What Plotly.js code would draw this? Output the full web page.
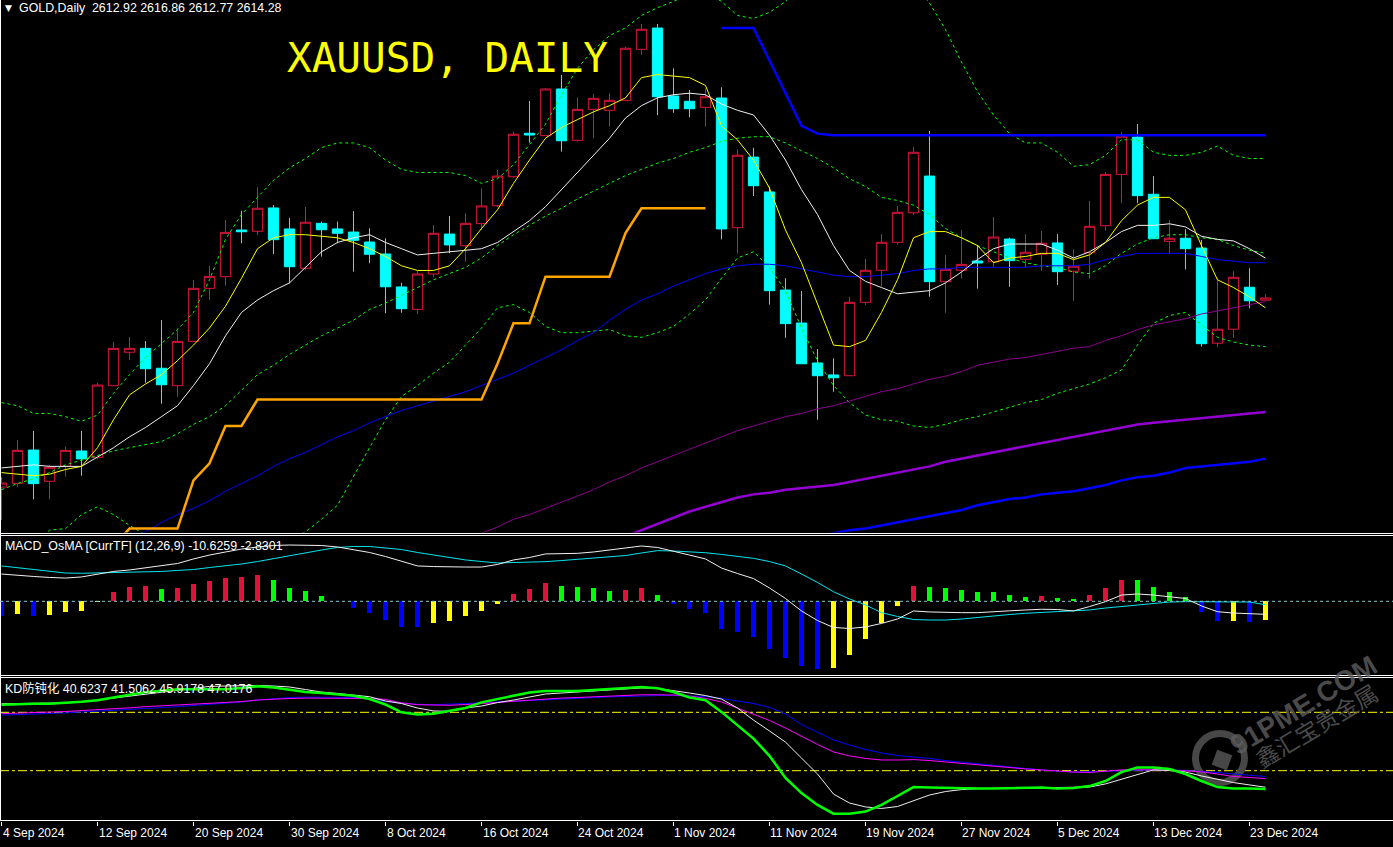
<!DOCTYPE html>
<html><head><meta charset="utf-8">
<script src="https://cdn.plot.ly/plotly-3.0.1.min.js"></script>
<style>html,body{margin:0;padding:0;background:#000;overflow:hidden}#chart{width:1393px;height:847px}</style>
</head><body><div id="chart"></div>
<script>
// ---------------- DATA ----------------
const tickIdx = [0,6,12,18,24,30,36,42,48,54,60,66,72,78];
const tickText = ["4 Sep 2024","12 Sep 2024","20 Sep 2024","30 Sep 2024","8 Oct 2024","16 Oct 2024","24 Oct 2024","1 Nov 2024","11 Nov 2024","19 Nov 2024","27 Nov 2024","5 Dec 2024","13 Dec 2024","23 Dec 2024"];

const open = [2492.7,2495.1,2516.5,2496.4,2506.1,2515.9,2511.8,2557.9,2579.4,2581.9,
2569.1,2557.9,2586.4,2620.5,2628.0,2658.0,2657.2,2672.2,2658.7,2633.4,
2662.3,2658.7,2656.7,2650.3,2642.6,2621.4,2607.0,2629.7,2655.4,2647.9,
2662.1,2673.6,2692.3,2720.2,2718.7,2748.7,2715.7,2735.6,2735.0,2741.4,
2774.2,2787.9,2744.2,2740.8,2736.9,2742.9,2659.5,2704.9,2682.5,2619.4,
2598.2,2572.5,2564.8,2564.3,2611.5,2632.1,2650.1,2669.1,2692.7,2624.8,
2632.1,2638.1,2637.6,2652.2,2639.2,2642.4,2649.7,2631.5,2643.4,2660.8,
2693.8,2717.8,2681.0,2650.7,2652.7,2646.4,2585.2,2594.2,2621.2,2612.92];
const high = [2499.2,2523.0,2528.8,2506.9,2518.7,2528.8,2559.8,2586.0,2589.2,2586.6,
2600.1,2594.8,2625.9,2635.1,2664.5,2670.4,2685.5,2674.1,2665.7,2672.8,
2663.4,2663.4,2670.2,2659.1,2652.7,2624.1,2631.8,2661.2,2667.0,2668.8,
2684.8,2696.6,2721.2,2741.0,2749.3,2757.7,2743.4,2745.5,2745.9,2775.7,
2790.5,2790.5,2762.0,2748.0,2749.1,2749.8,2709.9,2710.9,2685.9,2627.0,
2618.8,2581.5,2575.5,2614.9,2639.4,2655.4,2673.5,2711.4,2721.7,2641.9,
2658.0,2648.4,2666.4,2653.1,2655.4,2657.4,2655.4,2645.6,2676.7,2695.3,
2720.8,2726.2,2692.7,2664.5,2658.5,2651.6,2627.0,2631.6,2633.4,2616.86];
const low = [2471.5,2492.9,2484.8,2484.8,2499.4,2500.0,2510.6,2557.7,2574.4,2559.8,
2546.3,2550.8,2586.0,2613.0,2622.2,2649.5,2654.6,2642.6,2623.7,2632.1,
2640.9,2649.5,2631.2,2636.6,2604.5,2604.8,2604.0,2627.6,2643.0,2637.6,
2658.0,2672.8,2691.6,2714.2,2718.5,2708.4,2714.8,2717.0,2724.4,2741.0,
2770.6,2731.9,2733.4,2730.5,2724.4,2652.0,2643.0,2679.9,2610.0,2588.7,
2571.8,2536.0,2554.0,2564.1,2609.8,2621.5,2648.6,2667.7,2615.1,2604.8,
2626.7,2620.3,2633.8,2621.5,2634.0,2631.8,2622.6,2612.5,2626.7,2657.6,
2675.2,2675.2,2652.2,2642.6,2632.7,2583.0,2582.6,2588.6,2607.7,2612.77];
const close = [2495.3,2516.3,2494.9,2505.4,2516.3,2510.8,2558.3,2581.9,2581.9,2568.8,
2558.5,2586.4,2620.5,2628.2,2656.5,2656.9,2672.0,2651.8,2634.4,2663.0,
2658.2,2655.9,2651.4,2642.4,2621.5,2607.4,2629.7,2655.9,2648.4,2662.3,
2673.5,2692.7,2719.6,2719.1,2748.7,2715.4,2735.6,2742.7,2741.4,2774.9,
2787.1,2743.7,2736.0,2736.0,2743.7,2658.7,2706.1,2686.5,2619.0,2597.8,
2572.0,2564.3,2563.0,2611.5,2632.1,2650.1,2669.4,2708.0,2624.8,2632.7,
2635.9,2636.8,2653.5,2638.3,2643.7,2649.5,2631.2,2634.7,2660.4,2693.8,
2718.3,2680.1,2652.4,2652.7,2646.0,2584.9,2594.2,2627.6,2612.5,2614.28];

const maYellow = [2502,2501,2500,2501,2504,2506,2518,2536,2552,2559,
2565,2574,2584,2595,2609,2627,2646,2653,2655,2655,
2654,2653,2650,2646,2641,2635,2632,2632,2635,2646,
2659,2671,2688,2703,2717,2724,2729,2734,2738,2743,
2756,2758,2757,2756,2751,2725,2716,2703,2685,2658,
2637,2610,2584,2583,2587,2605,2626,2653,2657,2657,
2653,2648,2637,2640,2641,2643,2643,2639,2642,2650,
2664,2674,2679,2679,2671,2648,2626,2621,2615,2608];
const maWhite = [2505,2506,2507,2506,2506,2506,2512,2518,2525,2531,
2538,2545,2558,2572,2590,2605,2613,2619,2624,2634,
2644,2650,2653,2655,2650,2646,2642,2643,2644,2645,
2646,2650,2657,2664,2673,2684,2695,2706,2717,2730,
2738,2743,2745,2746,2745,2739,2735,2732,2719,2703,
2684,2668,2648,2632,2625,2621,2617,2618,2619,2624,
2631,2639,2646,2649,2649,2649,2645,2640,2644,2650,
2657,2661,2661,2662,2660,2654,2652,2651,2646,2640];
const bbMid = [2491,2495,2498,2502,2507,2510,2513,2516,2518,2520,
2522,2527,2533,2538,2545,2555,2565,2571,2578,2584,
2590,2595,2600,2607,2611,2616,2621,2626,2630,2634,
2640,2648,2655,2661,2667,2672,2678,2683,2688,2693,
2697,2701,2704,2708,2711,2715,2717,2718,2718,2714,
2709,2704,2698,2691,2686,2679,2677,2674,2668,2659,
2653,2648,2644,2640,2637,2635,2634,2631,2630,2635,
2643,2649,2653,2655,2655,2653,2652,2648,2645,2643];
const bbUpper = [2547,2545,2540,2540,2538,2535,2539,2553,2565,2576,
2585,2594,2605,2626,2652,2668,2679,2690,2698,2704,
2711,2714,2714,2711,2703,2697,2695,2695,2695,2693,
2688,2691,2700,2713,2726,2745,2762,2774,2783,2788,
2796,2801,2805,2810,2811,2805,2796,2794,2798,2805,
2816,2832,2841,2842,2834,2823,2821,2816,2804,2787,
2766,2747,2732,2720,2714,2714,2708,2699,2700,2706,
2716,2716,2708,2706,2706,2708,2712,2706,2704,2704];
const bbLower = [2434,2445,2456,2465,2466,2475,2480,2475,2468,2462,
2459,2460,2460,2451,2439,2443,2451,2452,2459,2464,
2472,2481,2500,2518,2536,2551,2558,2566,2573,2584,
2595,2608,2610,2605,2596,2592,2592,2593,2594,2590,
2589,2592,2596,2604,2613,2627,2640,2644,2634,2619,
2595,2574,2558,2547,2539,2536,2535,2532,2531,2533,
2536,2538,2541,2544,2547,2549,2553,2556,2559,2563,
2568,2584,2598,2603,2605,2597,2589,2586,2584,2583];

const ma50Start = 7;
const ma50 = [2453,2459,2464,2470,2475,2479,2484,2490,2495,2500,
2506,2511,2515,2520,2525,2529,2534,2538,2542,2545,
2548,2551,2554,2558,2562,2566,2571,2576,2581,2587,
2592,2600,2607,2613,2617,2622,2626,2630,2633,2635,
2636,2636,2635,2633,2631,2629,2628,2628,2629,2630,
2632,2633,2633,2634,2634,2634,2634,2634,2635,2635,
2635,2636,2639,2641,2643,2643,2643,2643,2641,2639,
2638,2637,2637];
const ma100Start = 29;
const ma100 = [2459,2463,2467,2472,2475,2479,2483,2487,2491,2496,
2500,2505,2509,2513,2517,2521,2525,2529,2532,2535,
2538,2540,2543,2545,2548,2551,2554,2556,2559,2562,
2564,2567,2571,2573,2575,2576,2578,2580,2582,2583,
2587,2590,2594,2597,2599,2601,2604,2606,2608,2610,2612];
const ma200Start = 39;
const ma200 = [2461,2465,2469,2473,2477,2480,2483,2486,2488,2489,
2491,2492,2493,2494,2496,2498,2500,2502,2504,2506,
2509,2511,2513,2515,2517,2519,2521,2523,2525,2527,
2529,2531,2533,2534,2535,2536,2537,2538,2539,2540,2541];
const maLongStart = 51;
const maLong = [2461,2463,2465,2466,2468,2470,2472,2474,2476,2478,
2481,2483,2485,2486,2488,2489,2490,2492,2494,2497,
2499,2500,2502,2505,2506,2507,2508,2509,2511];
const stopLowStart = 7;
const stopLow = [2455,2466,2466,2466,2466,2497,2508,2532,2532,2549,
2549,2549,2549,2549,2549,2549,2549,2549,2549,2549,
2549,2549,2549,2549,2572,2598,2598,2628,2628,2628,
2628,2628,2656,2672,2672,2672,2672,2672];
const stopHighStart = 45;
const stopHigh = [2788,2788,2788,2767,2746,2725,2720,2719,2719,2719,
2719,2719,2719,2719,2719,2719,2719,2719,2719,2719,
2719,2719,2719,2719,2719,2719,2719,2719,2719,2719,
2719,2719,2719,2719,2719];

const macdLine = [22.3,21.1,20.3,19.5,19.0,19.9,22.3,24.4,25.6,27.2,
28.9,30.9,34.6,37.8,40.3,42.7,44.4,45.6,46.0,46.0,
45.6,44.4,42.3,39.9,36.6,32.5,28.9,28.4,28.0,28.0,
28.0,30.1,33.8,35.8,38.7,39.1,39.2,40.3,41.9,43.3,
45.2,44.0,41.1,37.8,34.6,27.2,22.7,18.6,10.9,2.3,
-7.9,-15.7,-21.4,-22.2,-21.0,-18.1,-14.5,-7.9,-8.7,-9.3,
-9.3,-9.3,-8.3,-7.8,-7.1,-6.5,-6.7,-7.9,-4.3,-0.3,
5.1,6.0,5.1,3.9,2.3,-3.8,-8.5,-9.6,-10.2,-10.6259];
const signalLine = [28.9,27.6,26.0,24.4,23.1,22.9,23.1,23.4,23.5,23.7,
24.4,25.2,26.0,27.6,28.9,30.5,32.5,35.0,37.0,39.9,
41.9,44.0,44.8,44.8,43.6,42.3,39.9,37.8,36.2,33.8,
32.5,31.3,31.7,31.9,32.4,33.3,34.3,35.4,36.2,37.4,
39.5,41.4,41.1,40.7,39.7,38.3,36.6,35.1,32.5,28.9,
22.3,15.4,7.8,1.9,-3.0,-9.3,-12.4,-14.9,-15.3,-15.3,
-14.5,-13.1,-12.0,-10.8,-9.8,-9.2,-8.3,-7.9,-7.1,-5.5,
-4.3,-2.6,-1.8,-0.6,-0.3,-0.3,-0.3,-0.3,-0.6,-2.8301];
const osma = [-11.7,-10.1,-11.7,-10.9,-8.4,-7.6,-0.6,7.6,11.7,12.5,
10.1,10.9,14.5,16.6,19.0,19.9,21.5,17.4,10.9,8.4,
4.3,-0.3,-5.1,-9.6,-15.0,-21.0,-21.1,-17.4,-15.8,-11.7,
-7.9,-1.9,6.3,10.1,15.3,12.8,11.7,10.9,8.4,9.2,
10.9,5.1,-1.9,-6.3,-9.6,-22.6,-24.8,-29.2,-39.0,-46.0,
-52.9,-55.0,-54.2,-43.9,-30.8,-18.0,-3.8,12.5,11.7,10.9,
9.2,7.6,7.5,5.1,3.5,4.3,2.7,1.9,5.1,10.9,
17.4,17.2,11.7,7.6,3.5,-8.4,-16.1,-15.9,-16.9,-15.3];

const kdGreen = [83.9,84.3,84.4,84.4,84.8,85.4,86.2,87.7,89.0,90.3,
91.2,91.8,91.8,91.8,91.8,92.5,93.4,92.7,91.5,90.4,
89.9,89.1,88.5,86.8,84.0,80.0,78.9,79.3,80.7,82.2,
85.1,86.8,88.6,90.2,90.9,90.9,90.9,91.5,92.0,92.7,
93.0,92.3,90.4,87.6,86.2,80.2,73.5,66.5,57.6,46.3,
38.5,32.4,27.9,27.9,29.0,32.4,37.0,41.6,41.4,41.1,
40.9,40.8,40.9,41.1,41.4,41.4,40.9,41.1,42.1,44.7,
49.3,51.6,51.7,50.9,48.3,44.7,41.6,40.9,40.8,40.6237];
const kdWhite = [84.4,84.5,84.6,84.7,84.8,85.3,86.3,87.3,88.4,89.4,
90.2,91.2,92.5,93.3,93.5,93.8,93.8,93.5,93.0,91.7,
90.4,89.7,88.9,88.0,85.8,84.5,82.2,80.7,80.5,82.2,
83.2,85.0,86.3,87.9,89.4,89.9,90.4,90.9,91.7,92.1,
92.5,92.3,91.2,89.9,88.6,86.8,82.2,76.0,70.4,64.7,
56.5,48.3,38.0,33.4,31.4,30.6,31.6,34.4,37.5,39.3,
40.3,40.8,40.9,41.0,41.1,41.2,41.3,41.5,41.6,43.2,
45.7,47.8,50.4,50.1,49.3,47.3,45.5,43.9,42.7,41.5062];
const kdMagenta = [79.3,79.5,79.8,80.1,80.4,80.9,81.3,81.8,82.3,82.9,
83.3,83.7,84.1,84.4,84.9,85.5,86.3,86.8,87.1,87.3,
87.3,87.3,87.3,87.1,86.6,84.8,83.9,83.7,83.6,84.0,
84.4,85.0,85.7,86.3,86.8,87.3,87.6,88.0,88.4,88.8,
89.0,89.0,88.9,88.4,87.1,85.3,82.2,79.1,75.8,71.9,
67.6,63.5,59.6,57.6,56.3,55.5,55.5,55.7,55.2,54.5,
53.7,53.0,52.2,51.4,50.9,50.4,49.8,49.3,49.1,49.6,
50.4,50.5,50.5,50.4,49.9,49.4,48.3,47.0,46.5,45.9178];
const kdBlue = [78.5,78.7,79.0,79.4,79.7,80.1,80.5,80.9,81.3,81.8,
82.4,82.9,83.5,83.9,84.4,85.3,86.3,87.1,87.6,87.8,
87.8,87.8,87.6,86.8,85.5,84.8,84.1,83.9,84.1,84.5,
84.9,85.3,85.7,86.0,86.4,86.8,87.2,87.5,87.9,88.1,
88.4,88.6,88.6,88.4,88.1,87.1,85.8,84.5,82.5,79.1,
73.7,69.6,65.8,63.2,60.9,59.1,57.8,57.0,56.3,55.2,
54.5,53.7,52.8,51.9,51.1,50.4,49.7,49.3,49.4,49.7,
49.9,50.2,50.4,50.5,50.1,49.7,49.1,48.3,47.6,47.0176];
const kdLevels = [80, 50];

const headerText = "GOLD,Daily  2612.92 2616.86 2612.77 2614.28";
const titleText = "XAUUSD, DAILY";
const macdLabel = "MACD_OsMA [CurrTF] (12,26,9) -10.6259 -2.8301";
const kdLabel = "KD防钝化 40.6237 41.5062 45.9178 47.0176";

// ---------------- LAYOUT HELPERS ----------------
const W = 1393, H = 847, MB = 26, PH = H - MB;
const py = p => 1 - p / PH;
const pxp = p => p / W;
const idx = open.map((_, i) => i);
const xs = (arr, start) => arr.map((_, k) => k + start);

function line(x, y, color, width, dash, yaxis) {
  return {type:'scatter', mode:'lines', x:x, y:y, yaxis:yaxis||'y', xaxis:'x',
    line:{color:color, width:width, dash:dash||'solid'}, hoverinfo:'skip', showlegend:false};
}

const traces = [];
const dotted = '3px,3px';
traces.push(line(idx, bbUpper, '#00ff00', 1, dotted));
traces.push(line(idx, bbMid, '#00ff00', 1, dotted));
traces.push(line(idx, bbLower, '#00ff00', 1, dotted));
traces.push(line(xs(ma100, ma100Start), ma100, '#8b008b', 1));
traces.push(line(xs(ma200, ma200Start), ma200, '#9400d3', 2.5));
traces.push(line(xs(maLong, maLongStart), maLong, '#0000ff', 2.5));
traces.push(line(xs(ma50, ma50Start), ma50, '#0000ff', 1));
traces.push(line(xs(stopLow, stopLowStart), stopLow, '#ffa500', 2.5));
traces.push(line(xs(stopHigh, stopHighStart), stopHigh, '#0000ff', 2.5));
traces.push(line(idx, maWhite, '#f0f0f0', 1));
traces.push(line(idx, maYellow, '#ffff00', 1));
traces.push({type:'candlestick', x:idx, open:open, high:high, low:low, close:close,
  xaxis:'x', yaxis:'y', hoverinfo:'skip', showlegend:false, whiskerwidth:0,
  increasing:{line:{color:'#dc143c', width:1}, fillcolor:'#000000'},
  decreasing:{line:{color:'#00ffff', width:1}, fillcolor:'#00ffff'}});

// MACD panel
const barColors = osma.map((v, i) => {
  const prev = i > 0 ? osma[i-1] : v;
  if (v >= 0) return v > prev ? '#dc143c' : '#00ff00';
  return v > prev ? '#ffff00' : '#0000ff';
});
traces.push({type:'bar', x:idx, y:osma, xaxis:'x', yaxis:'y2', width:0.28,
  marker:{color:barColors, line:{width:0}}, hoverinfo:'skip', showlegend:false});
traces.push(line(idx, signalLine, '#00e5ee', 1, 'solid', 'y2'));
traces.push(line(idx, macdLine, '#f0f0f0', 1, 'solid', 'y2'));

// KD panel
traces.push(line(idx, kdBlue, '#0000ff', 1, 'solid', 'y3'));
traces.push(line(idx, kdMagenta, '#ff00ff', 1, 'solid', 'y3'));
traces.push(line(idx, kdWhite, '#f0f0f0', 1, 'solid', 'y3'));
traces.push(line(idx, kdGreen, '#00ff00', 2.5, 'solid', 'y3'));

const shapes = [];
[533.5, 535.5, 675.5, 677.5, 820.5].forEach(p => shapes.push({type:'line', xref:'paper', yref:'paper',
  x0:0, x1:1, y0:py(p), y1:py(p), line:{color:'#ffffff', width:1}, layer:'above'}));
shapes.push({type:'line', xref:'paper', yref:'paper', x0:pxp(0.5), x1:pxp(0.5), y0:0, y1:1,
  line:{color:'#ffffff', width:1}, layer:'above'});
shapes.push({type:'line', xref:'paper', yref:'y2', x0:0, x1:1, y0:0, y1:0,
  line:{color:'#88c8c8', width:1, dash:'3px,3px'}, layer:'above'});
kdLevels.forEach(v => shapes.push({type:'line', xref:'paper', yref:'y3', x0:0, x1:1, y0:v, y1:v,
  line:{color:'#ffff00', width:1, dash:'dashdot'}, layer:'below'}));
shapes.push({type:'circle', xref:'paper', yref:'paper', layer:'below',
  x0:pxp(1195.5), x1:pxp(1244.5), y0:py(782.5), y1:py(733.5),
  line:{color:'#474747', width:7}});
shapes.push({type:'path', xref:'paper', yref:'paper', layer:'below', fillcolor:'#474747', line:{width:0},
  path:`M ${pxp(1226.8)} ${py(770.3)} L ${pxp(1232.3)} ${py(755.2)} L ${pxp(1217.2)} ${py(749.7)} L ${pxp(1211.7)} ${py(764.8)} Z`});

const annFont = {family:'Liberation Sans, Noto Sans CJK SC, sans-serif', size:12.4, color:'#ffffff'};
const dateFont = {family:'Liberation Sans, sans-serif', size:12, color:'#ffffff'};
const annotations = [];
annotations.push({xref:'paper', yref:'paper', x:pxp(3), y:py(8), xanchor:'left', yanchor:'middle',
  text:'▼', showarrow:false, font:{family:'DejaVu Sans', size:9, color:'#ffffff'}});
annotations.push({xref:'paper', yref:'paper', x:pxp(17), y:py(8), xanchor:'left', yanchor:'middle',
  text:headerText, showarrow:false, font:annFont});
annotations.push({xref:'paper', yref:'paper', x:pxp(285), y:py(58), xanchor:'left', yanchor:'middle',
  text:titleText, showarrow:false,
  font:{family:'DejaVu Sans Mono, Liberation Mono, monospace', size:41, color:'#ffff00'}});
annotations.push({xref:'paper', yref:'paper', x:pxp(3), y:py(546), xanchor:'left', yanchor:'middle',
  text:macdLabel, showarrow:false, font:annFont});
annotations.push({xref:'paper', yref:'paper', x:pxp(3), y:py(688.5), xanchor:'left', yanchor:'middle',
  text:kdLabel, showarrow:false, font:annFont});
tickIdx.forEach((t, k) => annotations.push({xref:'x', yref:'paper', x:t, y:py(833), xanchor:'left', yanchor:'middle',
  xshift:-1, text:tickText[k], showarrow:false, font:dateFont}));
annotations.push({xref:'paper', yref:'paper', x:pxp(1303), y:py(705), xanchor:'center', yanchor:'middle',
  text:'<b>91PME.COM</b>', textangle:-31, showarrow:false,
  font:{family:'Liberation Sans, sans-serif', size:28, color:'rgba(95,95,95,0.8)'}});
annotations.push({xref:'paper', yref:'paper', x:pxp(1316), y:py(725), xanchor:'center', yanchor:'middle',
  text:'鑫汇宝贵金属', textangle:-31, showarrow:false,
  font:{family:'Noto Sans CJK SC, sans-serif', size:23, color:'rgba(95,95,95,0.8)'}});

const yBase = {showgrid:false, zeroline:false, showticklabels:false, ticks:'', showline:false, fixedrange:true};
const layout = {
  width:W, height:H, paper_bgcolor:'#000000', plot_bgcolor:'#000000',
  margin:{l:0, r:0, t:0, b:MB, pad:0}, showlegend:false, bargap:0, boxgap:0.36, boxgroupgap:0,
  xaxis:{range:[-0.094, 86.97], anchor:'y3', showgrid:false, zeroline:false, showline:false,
    tickvals:tickIdx, ticks:'outside', ticklen:4, tickcolor:'#ffffff', tickwidth:1,
    showticklabels:false, rangeslider:{visible:false}, fixedrange:true},
  yaxis: Object.assign({domain:[py(532.5), 1], range:[2463.48, 2805.93]}, yBase),
  yaxis2: Object.assign({domain:[py(675), py(536.5)], range:[-60.24, 52.96]}, yBase),
  yaxis3: Object.assign({domain:[0, py(678.5)], range:[24.16, 97.36]}, yBase),
  shapes:shapes, annotations:annotations
};
Plotly.newPlot('chart', traces, layout, {staticPlot:true, displayModeBar:false});
</script></body></html>
